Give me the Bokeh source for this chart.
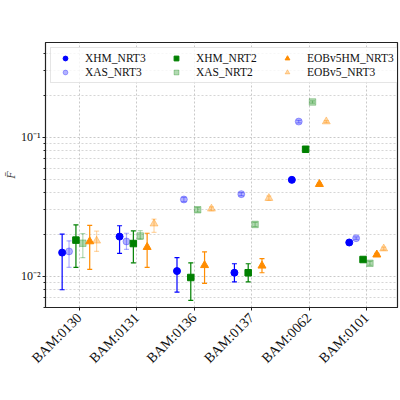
import numpy as np
from bokeh.plotting import figure
from bokeh.models import (Range1d, FixedTicker, Legend, LegendItem, ColumnDataSource)
from bokeh.embed import file_html
from bokeh.resources import INLINE

categories = ["BAM:0130", "BAM:0131", "BAM:0136", "BAM:0137", "BAM:0062", "BAM:0101"]

series_names = ["XHM_NRT3", "XAS_NRT3", "XHM_NRT2", "XAS_NRT2", "EOBv5HM_NRT3", "EOBv5_NRT3"]

xhm_nrt3 = [0.0148, 0.0193, 0.0109, 0.0106, 0.0494, 0.0175]
xhm_nrt3_lo = [0.0080, 0.0146, 0.0077, 0.0091, 0.0486, 0.0172]
xhm_nrt3_hi = [0.0201, 0.0231, 0.0136, 0.0123, 0.0502, 0.0178]

xas_nrt3 = [0.0151, 0.0178, 0.0357, 0.0390, 0.1298, 0.0188]
xas_nrt3_lo = [0.0116, 0.0156, 0.0345, 0.0380, 0.1270, 0.0184]
xas_nrt3_hi = [0.0180, 0.0204, 0.0369, 0.0400, 0.1325, 0.0192]

xhm_nrt2 = [0.0182, 0.0172, 0.0098, 0.0106, 0.0820, 0.0132]
xhm_nrt2_lo = [0.0116, 0.0125, 0.0067, 0.0091, 0.0810, 0.0129]
xhm_nrt2_hi = [0.0234, 0.0212, 0.0125, 0.0123, 0.0830, 0.0135]

xas_nrt2 = [0.0173, 0.0195, 0.0301, 0.0236, 0.1795, 0.0124]
xas_nrt2_lo = [0.0136, 0.0185, 0.0290, 0.0228, 0.1760, 0.0120]
xas_nrt2_hi = [0.0203, 0.0213, 0.0312, 0.0244, 0.1830, 0.0128]

eob_hm_nrt3 = [0.0178, 0.0162, 0.0120, 0.0119, 0.0460, 0.0143]
eob_hm_nrt3_lo = [0.0112, 0.0116, 0.0089, 0.0106, 0.0452, 0.0140]
eob_hm_nrt3_hi = [0.0232, 0.0204, 0.0150, 0.0134, 0.0468, 0.0146]

eob_nrt3 = [0.0180, 0.0239, 0.0306, 0.0365, 0.1298, 0.0158]
eob_nrt3_lo = [0.0151, 0.0207, 0.0296, 0.0352, 0.1275, 0.0154]
eob_nrt3_hi = [0.0211, 0.0258, 0.0316, 0.0378, 0.1320, 0.0162]

y_major_ticks = [0.01, 0.1]
y_minor_ticks = [0.006, 0.007, 0.008, 0.009, 0.02, 0.03, 0.04, 0.05, 0.06, 0.07, 0.08, 0.09,
                 0.2, 0.3, 0.4]
y_tick_labels = {0.01: "10\u207b\u00b2", 0.1: "10\u207b\u00b9"}

offsets = [-0.30, -0.18, -0.06, 0.06, 0.18, 0.30]
colors = ["#0000ff", "#0000ff", "#008000", "#008000", "#ff8c00", "#ff8c00"]
alphas = [1.0, 0.3, 1.0, 0.3, 1.0, 0.35]
markers = ["circle", "circle", "square", "square", "triangle", "triangle"]
msizes = [7, 7, 6.5, 6.5, 8, 8]

values = [xhm_nrt3, xas_nrt3, xhm_nrt2, xas_nrt2, eob_hm_nrt3, eob_nrt3]
lows = [xhm_nrt3_lo, xas_nrt3_lo, xhm_nrt2_lo, xas_nrt2_lo, eob_hm_nrt3_lo, eob_nrt3_lo]
highs = [xhm_nrt3_hi, xas_nrt3_hi, xhm_nrt2_hi, xas_nrt2_hi, eob_hm_nrt3_hi, eob_nrt3_hi]

FONT = "Liberation Serif"

p = figure(width=400, height=400, output_backend="svg", toolbar_location=None,
           y_axis_type="log", x_range=Range1d(-0.59, 5.54), y_range=Range1d(0.00596, 0.481),
           min_border_left=43, min_border_right=3, min_border_top=42, min_border_bottom=93)
p.background_fill_color = "white"
p.border_fill_color = "white"
p.outline_line_color = "#222222"
p.outline_line_width = 1.2

items = {}
for i, name in enumerate(series_names):
    xs = np.arange(len(categories)) + offsets[i]
    src = ColumnDataSource(dict(x=xs, y=values[i], lo=lows[i], hi=highs[i]))
    p.segment(x0="x", y0="lo", x1="x", y1="hi", source=src, line_color=colors[i],
              line_alpha=alphas[i], line_width=1.2)
    p.scatter(x="x", y="lo", source=src, marker="dash", size=5, line_color=colors[i],
              line_alpha=alphas[i], line_width=1.2)
    p.scatter(x="x", y="hi", source=src, marker="dash", size=5, line_color=colors[i],
              line_alpha=alphas[i], line_width=1.2)
    r = p.scatter(x="x", y="y", source=src, marker=markers[i], size=msizes[i],
                  fill_color=colors[i], line_color=colors[i],
                  fill_alpha=alphas[i], line_alpha=alphas[i])
    items[name] = r

legend = Legend(items=[LegendItem(label=n, renderers=[items[n]]) for n in series_names],
                location="top_left", ncols=3)
legend.label_text_font = FONT
legend.label_text_font_size = "11.5px"
legend.label_height = 12
legend.label_width = 79
legend.glyph_height = 12
legend.glyph_width = 20
legend.label_standoff = 10
legend.spacing = 2
legend.padding = 4
legend.margin = 5
legend.border_line_color = "#cccccc"
legend.background_fill_alpha = 0.8
legend.label_text_color = "#111111"
p.add_layout(legend)

# axes
p.xaxis.ticker = FixedTicker(ticks=list(range(len(categories))))
p.xaxis.major_label_overrides = {i: c for i, c in enumerate(categories)}
p.xaxis.major_label_orientation = np.pi / 4
p.xaxis.major_label_text_font = FONT
p.xaxis.major_label_text_font_size = "14px"

p.yaxis.ticker = FixedTicker(ticks=y_major_ticks, minor_ticks=y_minor_ticks)
p.yaxis.major_label_overrides = y_tick_labels
p.yaxis.major_label_text_font = FONT
p.yaxis.major_label_text_font_size = "12px"
p.yaxis.major_label_standoff = 2
p.yaxis.axis_label = "F\u0304"
p.yaxis.axis_label_text_font = FONT
p.yaxis.axis_label_text_font_style = "italic"
p.yaxis.axis_label_text_font_size = "12px"
p.yaxis.axis_label_standoff = 0

for ax in [p.xaxis, p.yaxis]:
    ax.axis_line_color = "#222222"
    ax.major_tick_line_color = "#222222"
    ax.minor_tick_line_color = "#222222"
    ax.major_tick_out = 3
    ax.major_tick_in = 0
    ax.minor_tick_out = 2
    ax.minor_tick_in = 0
    ax.major_label_text_color = "#111111"
p.xaxis.minor_tick_line_color = None

p.xgrid.grid_line_color = "#bbbbbb"
p.xgrid.grid_line_dash = "2 2"
p.xgrid.grid_line_alpha = 0.8
p.ygrid.grid_line_color = "#bbbbbb"
p.ygrid.grid_line_dash = "2 2"
p.ygrid.grid_line_alpha = 0.8
p.ygrid.minor_grid_line_color = "#cccccc"
p.ygrid.minor_grid_line_dash = "2 2"
p.ygrid.minor_grid_line_alpha = 0.8

open("out.html", "w").write(file_html(p, INLINE))
